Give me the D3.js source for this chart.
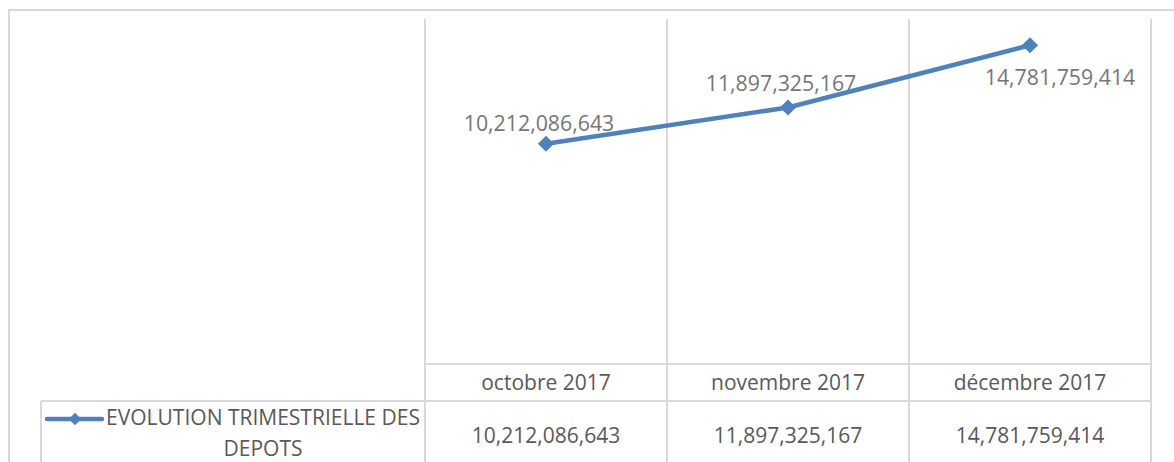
<!DOCTYPE html>
<html>
<head>
<meta charset="utf-8">
<script src="https://cdn.jsdelivr.net/npm/d3@7"></script>
<style>
  html, body { margin: 0; padding: 0; background: #fff; }
  svg { display: block; font-family: "Open Sans", sans-serif; }
</style>
</head>
<body>
<div id="chart"></div>
<script>
// Daten
var categories = ["octobre 2017", "novembre 2017", "décembre 2017"];
var depots = [10212086643, 11897325167, 14781759414];
var seriesName = ["EVOLUTION TRIMESTRIELLE DES", "DEPOTS"];

document.addEventListener("DOMContentLoaded", function() {
    var W = 1174, H = 462;
    var plot = {left: 425, right: 1151, top: 19, bottom: 364};
    var rowTop = 364, rowMid = 401;
    var blue = "#4F81BD", grid = "#D9D9D9";
    var fmt = d3.format(",");

    var svg = d3.select("#chart").append("svg")
        .attr("width", W)
        .attr("height", H);

    // Rahmen (ragt über den Bildausschnitt hinaus)
    svg.append("rect")
        .attr("x", 9).attr("y", 10)
        .attr("width", W + 20).attr("height", H + 20)
        .attr("fill", "none")
        .attr("stroke", grid)
        .attr("stroke-width", 2);

    var x = d3.scaleBand()
        .domain(categories)
        .range([plot.left, plot.right])
        .padding(0);

    var y = d3.scaleLinear()
        .domain([0, 16e9])
        .range([plot.bottom, plot.top]);

    // vertikale Gitterlinien an den Kategoriegrenzen
    var bounds = categories.map(function(c) { return x(c); }).concat([x.range()[1]]);
    svg.append("g").selectAll("line")
        .data(bounds)
        .enter().append("line")
        .attr("x1", d => d).attr("x2", d => d)
        .attr("y1", plot.top).attr("y2", H + 10)
        .attr("stroke", grid)
        .attr("stroke-width", 2);

    // Tabellenlinien
    svg.append("line")
        .attr("x1", plot.left).attr("x2", plot.right)
        .attr("y1", rowTop).attr("y2", rowTop)
        .attr("stroke", grid).attr("stroke-width", 2);
    svg.append("line")
        .attr("x1", 41).attr("x2", plot.right)
        .attr("y1", rowMid).attr("y2", rowMid)
        .attr("stroke", grid).attr("stroke-width", 2);
    svg.append("line")
        .attr("x1", 41).attr("x2", 41)
        .attr("y1", rowMid).attr("y2", H + 10)
        .attr("stroke", grid).attr("stroke-width", 2);

    // Linie
    var line = d3.line()
        .x((d, i) => x(categories[i]) + x.bandwidth() / 2)
        .y(d => y(d));

    svg.append("path")
        .datum(depots)
        .attr("d", line)
        .attr("fill", "none")
        .attr("stroke", blue)
        .attr("stroke-width", 4.5)
        .attr("stroke-linejoin", "round");

    // Rauten-Marker
    var diamond = d3.symbol().type(d3.symbolSquare).size(130);
    svg.append("g").selectAll("path")
        .data(depots)
        .enter().append("path")
        .attr("d", diamond)
        .attr("transform", (d, i) => "translate(" + (x(categories[i]) + x.bandwidth() / 2) + "," + y(d) + ") rotate(45)")
        .attr("fill", blue);

    // Datenbeschriftungen (manuell verschoben wie im Original)
    var labelOffset = [[-7, -13], [-7, -16], [30, 40]];
    svg.append("g").selectAll("text")
        .data(depots)
        .enter().append("text")
        .attr("x", (d, i) => x(categories[i]) + x.bandwidth() / 2 + labelOffset[i][0])
        .attr("y", (d, i) => y(d) + labelOffset[i][1])
        .attr("text-anchor", "middle")
        .style("font-size", "21.3px")
        .style("fill", "#767676")
        .text(d => fmt(d));

    // Kategorien (Kopfzeile der Tabelle)
    svg.append("g").selectAll("text")
        .data(categories)
        .enter().append("text")
        .attr("x", d => x(d) + x.bandwidth() / 2)
        .attr("y", 390)
        .attr("text-anchor", "middle")
        .style("font-size", "21px")
        .style("fill", "#595959")
        .text(d => d);

    // Werte (Datenzeile)
    svg.append("g").selectAll("text")
        .data(depots)
        .enter().append("text")
        .attr("x", (d, i) => x(categories[i]) + x.bandwidth() / 2)
        .attr("y", 443)
        .attr("text-anchor", "middle")
        .style("font-size", "21px")
        .style("fill", "#595959")
        .text(d => fmt(d));

    // Legendenschlüssel
    var key = svg.append("g");
    key.append("line")
        .attr("x1", 47).attr("x2", 102)
        .attr("y1", 419).attr("y2", 419)
        .attr("stroke", blue)
        .attr("stroke-width", 4.5)
        .attr("stroke-linecap", "round");
    key.append("path")
        .attr("d", d3.symbol().type(d3.symbolSquare).size(80))
        .attr("transform", "translate(75,419) rotate(45)")
        .attr("fill", blue);

    svg.append("g").selectAll("text")
        .data(seriesName)
        .enter().append("text")
        .attr("x", 263)
        .attr("y", (d, i) => 425 + i * 31)
        .attr("text-anchor", "middle")
        .style("font-size", "21px")
        .style("fill", "#595959")
        .text(d => d);
});
</script>
</body>
</html>
